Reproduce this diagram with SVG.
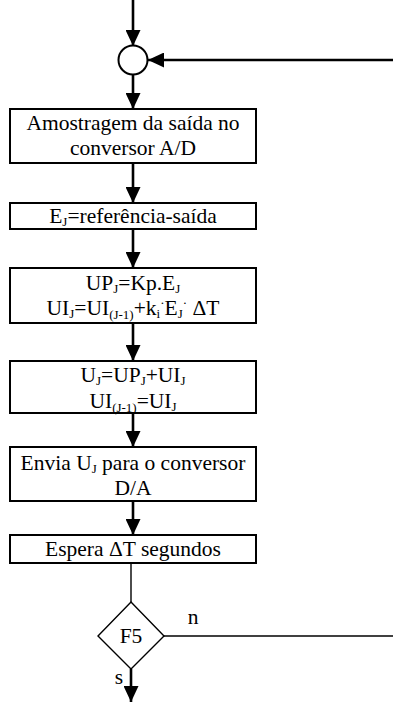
<svg xmlns="http://www.w3.org/2000/svg" width="393" height="702" viewBox="0 0 393 702">
<style>
.box{fill:#fff;stroke:#000;stroke-width:2}
.thin{fill:none;stroke:#000;stroke-width:1.4}
.flow{fill:none;stroke:#000;stroke-width:2.6}
text{font-family:"Liberation Serif","Times New Roman",serif;font-size:21.5px;fill:#000;text-anchor:middle}
.sub{font-size:13px}
</style>
<defs>
<marker id="ah" viewBox="0 0 16 15" refX="16" refY="7.5" markerWidth="16" markerHeight="15" markerUnits="userSpaceOnUse" orient="auto">
<path d="M0,0 L16,7.5 L0,15 Z" fill="#000"/>
</marker>
</defs>
<g id="connectors">
<line class="flow" x1="133" y1="0" x2="133" y2="46" marker-end="url(#ah)"/>
<line class="flow" x1="393" y1="60" x2="148" y2="60" marker-end="url(#ah)"/>
<line class="flow" x1="133" y1="75" x2="133" y2="109" marker-end="url(#ah)"/>
<line class="flow" x1="133" y1="163" x2="133" y2="203" marker-end="url(#ah)"/>
<line class="flow" x1="133" y1="229" x2="133" y2="268" marker-end="url(#ah)"/>
<line class="flow" x1="133" y1="323" x2="133" y2="361" marker-end="url(#ah)"/>
<line class="flow" x1="133" y1="413" x2="133" y2="447" marker-end="url(#ah)"/>
<line class="flow" x1="133" y1="501" x2="133" y2="535" marker-end="url(#ah)"/>
<line class="thin" x1="131" y1="563" x2="131" y2="602"/>
<line class="thin" x1="164" y1="636" x2="393" y2="636"/>
<line class="flow" x1="131" y1="669" x2="131" y2="702" marker-end="url(#ah)"/>
<text x="193" y="624">n</text>
<text x="119" y="684">s</text>
</g>
<g id="junction">
<circle cx="133" cy="60" r="14.5" fill="#fff" stroke="#000" stroke-width="2"/>
</g>
<g id="amostragem">
<rect class="box" x="10" y="109" width="246" height="54"/>
<text x="133" y="130">Amostragem da saída no</text>
<text x="133" y="155">conversor A/D</text>
</g>
<g id="erro">
<rect class="box" x="10" y="203" width="246" height="26"/>
<text x="133" y="223">E<tspan class="sub" dy="3">J</tspan><tspan dy="-3">=referência-saída</tspan></text>
</g>
<g id="calculo">
<rect class="box" x="10" y="268" width="246" height="55"/>
<text x="133" y="290">UP<tspan class="sub" dy="3">J</tspan><tspan dy="-3">=Kp.E</tspan><tspan class="sub" dy="3">J</tspan></text>
<text x="133" y="315">UI<tspan class="sub" dy="3">J</tspan><tspan dy="-3">=UI</tspan><tspan class="sub" dy="4">(J-1)</tspan><tspan dy="-4">+k</tspan><tspan class="sub" dy="3">i</tspan><tspan class="sub" dy="-11">·</tspan><tspan dy="8">E</tspan><tspan class="sub" dy="3">J</tspan><tspan class="sub" dy="-11">·</tspan><tspan dy="8"> ΔT</tspan></text>
</g>
<g id="atualiza">
<rect class="box" x="10" y="361" width="246" height="52"/>
<text x="133" y="382">U<tspan class="sub" dy="3">J</tspan><tspan dy="-3">=UP</tspan><tspan class="sub" dy="3">J</tspan><tspan dy="-3">+UI</tspan><tspan class="sub" dy="3">J</tspan></text>
<text x="133" y="408">UI<tspan class="sub" dy="4">(J-1)</tspan><tspan dy="-4">=UI</tspan><tspan class="sub" dy="3">J</tspan></text>
</g>
<g id="envia">
<rect class="box" x="10" y="447" width="246" height="54"/>
<text x="133" y="470">Envia U<tspan class="sub" dy="3">J</tspan><tspan dy="-3"> para o conversor</tspan></text>
<text x="133" y="495">D/A</text>
</g>
<g id="espera">
<rect class="box" x="10" y="535" width="246" height="28"/>
<text x="133" y="556">Espera ΔT segundos</text>
</g>
<g id="decisao">
<polygon class="thin" points="131,602 164,636 131,669 98,636" fill="#fff"/>
<text x="131" y="643">F5</text>
</g>
</svg>
